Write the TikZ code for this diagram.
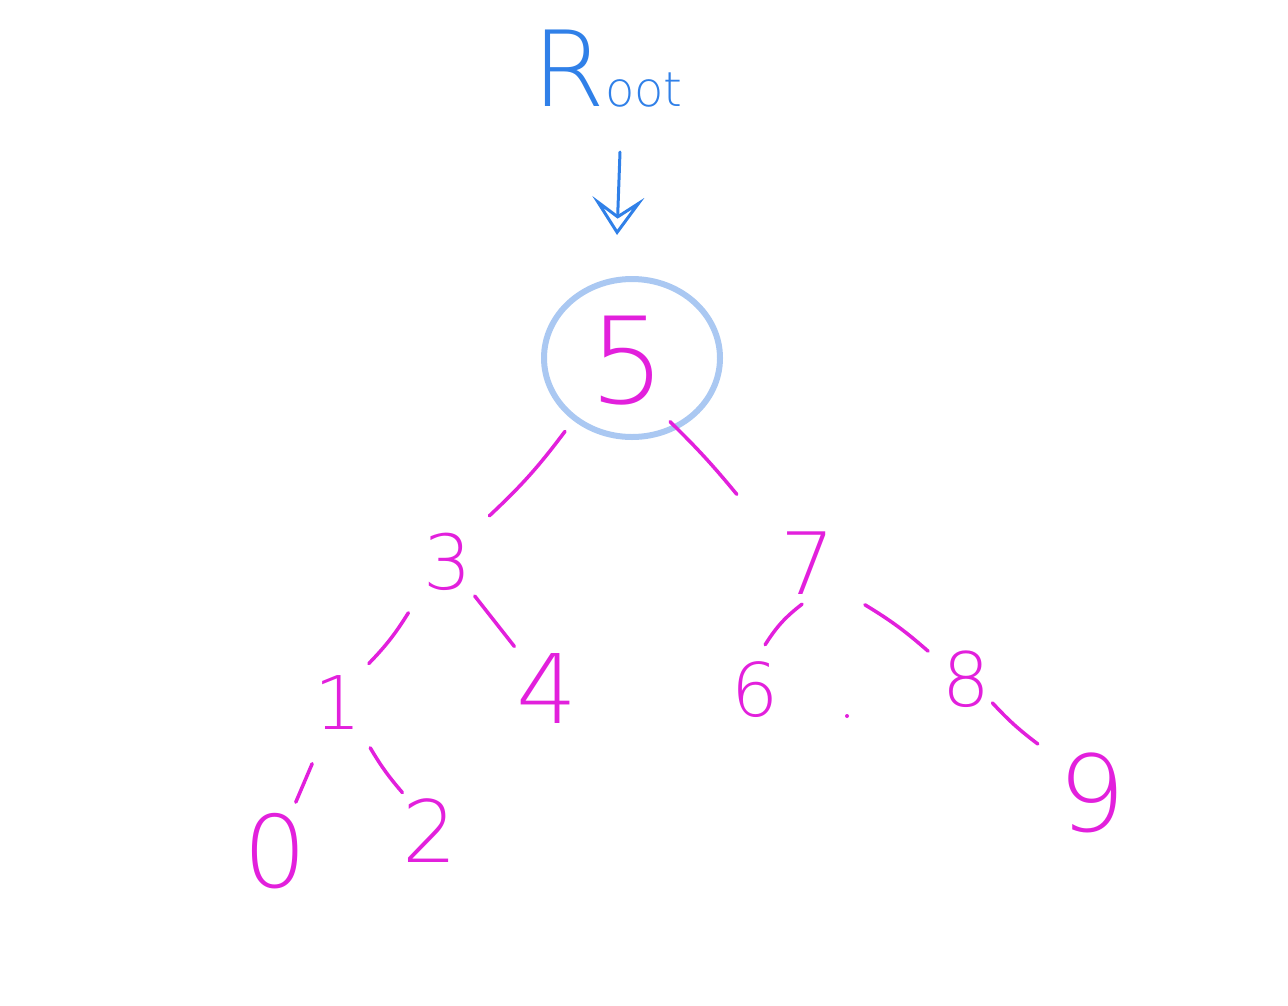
\documentclass[tikz,border=0pt]{standalone}
\usepackage{fontspec}
\newfontfamily\thinfont{DejaVu Sans ExtraLight}
\usetikzlibrary{arrows.meta,calc,shapes.geometric}
\definecolor{mag}{RGB}{226,32,220}
\definecolor{rootblue}{RGB}{48,128,232}
\definecolor{ringblue}{RGB}{170,200,242}
\begin{document}
\begin{tikzpicture}[x=1pt,y=-1pt,
  digit/.style={text=mag,font=\thinfont\fontsize{#1}{#1}\selectfont,inner sep=0pt},
  edge/.style={draw=mag,line width=3.5pt,line cap=round},
  ring/.style={draw=ringblue,line width=6pt,ellipse,minimum width=176pt,minimum height=158pt,inner sep=0pt},
  pointer/.style={draw=rootblue,line width=3pt,line cap=round,-{Stealth[open,length=38pt,width=52pt,inset=18pt]}}]
\useasboundingbox (0,0) rectangle (1288,1005);
% root label and arrow
\node[text=rootblue,font=\thinfont,inner sep=0pt,anchor=base west] (root) at (532,106)
  {{\fontsize{105}{105}\selectfont R}{\fontsize{48}{48}\selectfont oot}};
\node[ring] (ring) at (632,358) {};
\coordinate (atop) at (620,152);
\coordinate (abot) at (617,235);
\draw[pointer] (atop) -- (abot);
% digits
\node[digit=120] (n5) at (628,361) {5};
\node[digit=76]  (n3) at (448,562) {3};
\node[digit=86]  (n7) at (808,563) {7};
\node[digit=74]  (n1) at (338,703) {1};
\node[digit=96]  (n4) at (547,688) {4};
\node[digit=74]  (n6) at (755,690) {6};
\node[digit=75]  (n8) at (966,679) {8};
\node[digit=106] (n9) at (1092,793) {9};
\node[digit=100] (n0) at (275,851) {0};
\node[digit=86]  (n2) at (430,831) {2};
% edges
\draw[edge] ($(n5)!0.35!(n3)$) to[bend left=5] ($(n5)!0.77!(n3)$);
\draw[edge] ($(n5)!0.30!(n7)+(-12,0)$) to[bend left=3] ($(n5)!0.66!(n7)+(-10,0)$);
\draw[edge] ($(n3)!0.36!(n1)$) to[bend left=6] ($(n3)!0.72!(n1)$);
\draw[edge] ($(n3)!0.27!(n4)$) -- ($(n3)!0.67!(n4)$);
\draw[edge] ($(n7)!0.30!(n6)+(10,3)$) to[bend right=10] ($(n7)!0.62!(n6)+(-10,3)$);
\draw[edge] ($(n7)!0.36!(n8)$) to[bend left=5] ($(n7)!0.76!(n8)$);
\draw[edge] ($(n1)!0.41!(n0)$) -- ($(n1)!0.67!(n0)$);
\draw[edge] ($(n1)!0.35!(n2)$) to[bend right=5] ($(n1)!0.70!(n2)$);
\draw[edge] ($(n8)!0.21!(n9)$) to[bend right=5] ($(n8)!0.57!(n9)$);
% stray dot
\fill[mag] (847,716) circle (2pt);
\end{tikzpicture}
\end{document}
